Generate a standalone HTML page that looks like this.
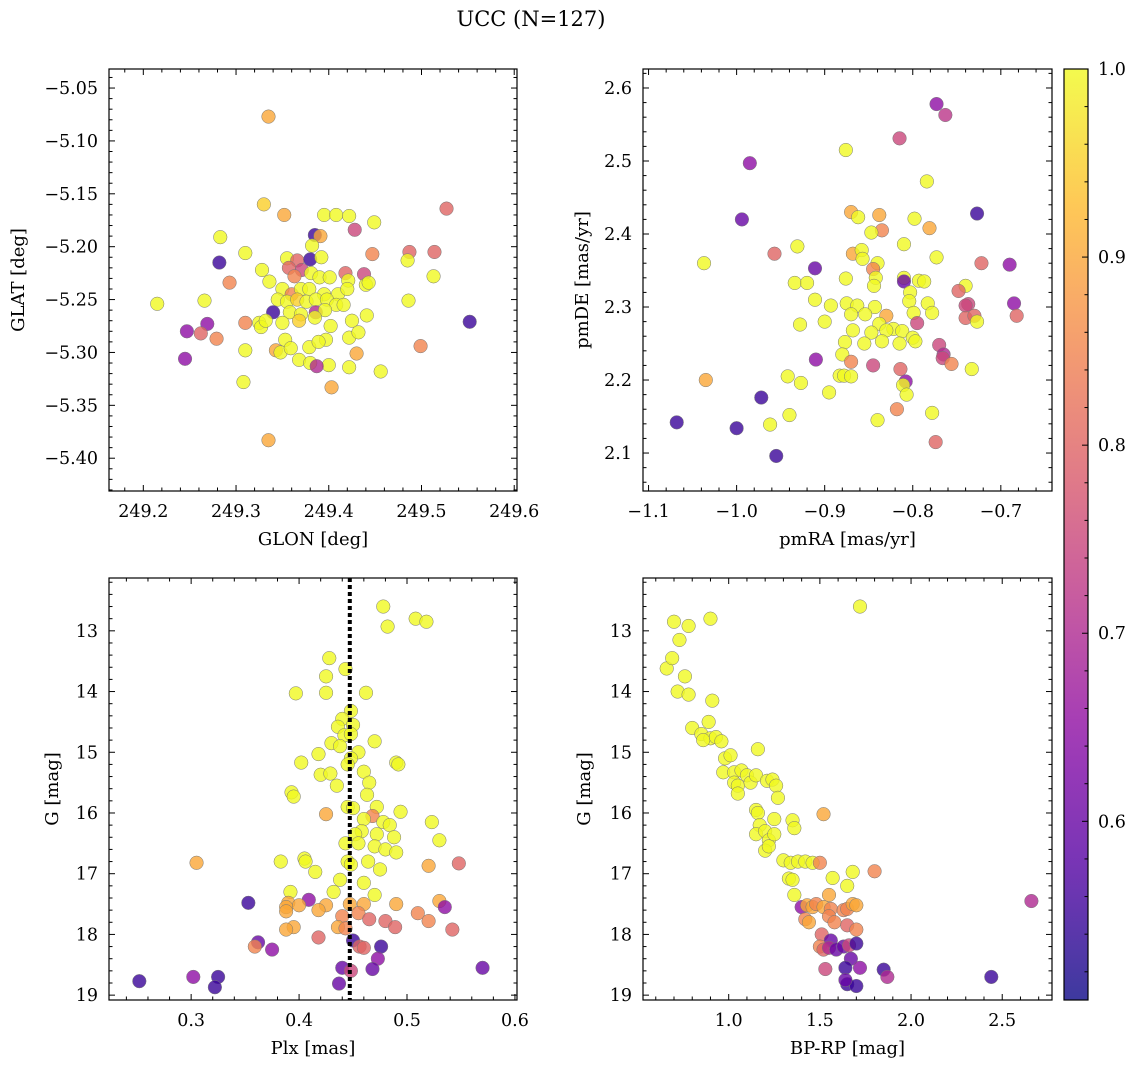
<!DOCTYPE html>
<html><head><meta charset="utf-8"><style>
body{margin:0;background:#fff}
svg{display:block;font-family:"DejaVu Serif","Liberation Serif",serif}
</style></head><body>
<svg id="fig" width="1136" height="1068" viewBox="0 0 1136 1068" xmlns="http://www.w3.org/2000/svg">
<text x="531" y="26" font-size="21" text-anchor="middle">UCC (N=127)</text>
</svg>
<script>
const tlX=[249.335,249.330,249.352,249.395,249.408,249.422,249.449,249.527,249.428,249.385,249.391,249.283,249.310,249.382,249.282,249.355,249.366,249.380,249.392,249.447,249.487,249.514,249.485,249.328,249.357,249.371,249.363,249.293,249.266,249.215,249.336,249.381,249.390,249.401,249.418,249.421,249.438,249.440,249.443,249.513,249.350,249.360,249.370,249.379,249.395,249.410,249.420,249.345,249.355,249.366,249.376,249.386,249.398,249.408,249.486,249.340,249.358,249.370,249.386,249.396,249.416,249.441,249.310,249.325,249.327,249.332,249.350,249.368,249.385,249.402,249.425,249.552,249.269,249.247,249.262,249.279,249.353,249.397,249.422,249.432,249.499,249.310,249.343,249.348,249.359,249.379,249.389,249.430,249.245,249.368,249.380,249.400,249.387,249.422,249.456,249.308,249.403,249.335];
const tlY=[-5.077,-5.160,-5.170,-5.170,-5.170,-5.171,-5.177,-5.164,-5.184,-5.189,-5.190,-5.191,-5.206,-5.199,-5.215,-5.211,-5.213,-5.212,-5.210,-5.207,-5.205,-5.205,-5.213,-5.222,-5.220,-5.222,-5.228,-5.234,-5.251,-5.254,-5.233,-5.225,-5.229,-5.229,-5.225,-5.232,-5.226,-5.236,-5.234,-5.228,-5.240,-5.245,-5.240,-5.240,-5.245,-5.245,-5.240,-5.250,-5.252,-5.250,-5.252,-5.250,-5.250,-5.255,-5.251,-5.262,-5.262,-5.264,-5.262,-5.260,-5.255,-5.265,-5.272,-5.272,-5.276,-5.270,-5.272,-5.270,-5.267,-5.275,-5.270,-5.271,-5.273,-5.280,-5.282,-5.287,-5.288,-5.288,-5.286,-5.281,-5.294,-5.298,-5.298,-5.300,-5.296,-5.295,-5.290,-5.301,-5.306,-5.307,-5.310,-5.312,-5.313,-5.314,-5.318,-5.328,-5.333,-5.383];
const tlP=[.9,.95,.9,1,1,1,1,.8,.75,.55,.9,1,1,1,.55,1,.8,.55,1,.85,.8,.8,1,1,.8,.75,.85,.85,1,1,1,1,1,1,.8,1,.75,1,1,1,1,.85,1,1,1,1,1,1,1,.95,1,1,1,1,1,.55,1,1,.7,1,1,1,.85,1,1,1,1,.95,1,1,1,.55,.65,.65,.8,.85,1,1,1,1,.85,1,.9,1,1,1,1,.9,.65,1,1,1,.7,1,1,1,.9,.9];

const trX=[-0.773,-0.763,-0.815,-0.876,-0.985,-0.784,-0.727,-0.870,-0.862,-0.838,-0.798,-0.994,-0.835,-0.847,-0.781,-0.931,-0.810,-0.957,-0.868,-0.858,-0.857,-0.840,-0.773,-0.722,-0.690,-1.037,-0.911,-0.845,-0.842,-0.876,-0.810,-0.810,-0.793,-0.787,-0.740,-0.934,-0.920,-0.844,-0.748,-0.803,-0.804,-0.783,-0.911,-0.875,-0.863,-0.843,-0.737,-0.740,-0.685,-0.893,-0.854,-0.870,-0.830,-0.799,-0.778,-0.740,-0.730,-0.682,-0.900,-0.838,-0.822,-0.830,-0.812,-0.795,-0.727,-0.928,-0.868,-0.847,-0.855,-0.835,-0.800,-0.797,-0.770,-0.765,-0.766,-0.877,-0.880,-0.870,-0.910,-0.815,-0.756,-0.733,-0.814,-0.883,-0.878,-0.870,-0.927,-0.942,-0.895,-0.845,-0.808,-0.811,-0.807,-1.035,-0.972,-0.818,-0.778,-0.940,-0.840,-0.962,-0.774,-1.068,-1.000,-0.955];
const trY=[2.578,2.563,2.531,2.515,2.497,2.472,2.428,2.430,2.423,2.426,2.421,2.420,2.405,2.402,2.408,2.383,2.386,2.373,2.373,2.378,2.366,2.360,2.368,2.360,2.358,2.360,2.353,2.352,2.340,2.339,2.340,2.335,2.336,2.335,2.329,2.333,2.333,2.329,2.322,2.320,2.308,2.305,2.310,2.305,2.302,2.300,2.304,2.302,2.305,2.302,2.290,2.290,2.288,2.292,2.292,2.285,2.288,2.288,2.280,2.277,2.270,2.268,2.267,2.278,2.280,2.276,2.268,2.265,2.250,2.253,2.258,2.253,2.248,2.235,2.230,2.252,2.235,2.225,2.228,2.250,2.222,2.215,2.215,2.206,2.206,2.205,2.196,2.205,2.183,2.220,2.198,2.193,2.180,2.200,2.176,2.160,2.155,2.152,2.145,2.139,2.115,2.142,2.134,2.096];
const trP=[.65,.72,.75,1,.65,1,.55,.9,1,.9,1,.6,.85,1,.9,1,1,.8,.9,1,1,1,1,.8,.65,1,.6,.85,1,1,1,.6,1,1,1,1,1,1,.8,1,1,1,1,1,1,1,.75,.75,.65,1,1,1,.9,1,1,.8,.8,.8,1,1,1,1,1,.75,1,1,1,1,1,1,1,1,.75,.7,.75,1,1,.85,.65,1,.85,1,.8,1,1,1,1,1,1,.75,.65,1,1,.9,.55,.85,1,1,1,1,.8,.55,.55,.55];

const blX=[0.478,0.508,0.518,0.482,0.428,0.443,0.425,0.425,0.462,0.397,0.448,0.440,0.450,0.436,0.442,0.448,0.430,0.438,0.418,0.470,0.455,0.448,0.402,0.445,0.490,0.492,0.420,0.429,0.460,0.465,0.435,0.393,0.395,0.463,0.445,0.450,0.472,0.494,0.425,0.468,0.460,0.478,0.484,0.523,0.458,0.452,0.472,0.488,0.530,0.443,0.455,0.470,0.480,0.490,0.405,0.406,0.383,0.445,0.464,0.305,0.448,0.520,0.548,0.415,0.475,0.438,0.460,0.392,0.432,0.470,0.409,0.353,0.390,0.388,0.400,0.425,0.447,0.460,0.490,0.530,0.535,0.388,0.418,0.455,0.465,0.440,0.510,0.520,0.480,0.542,0.395,0.388,0.436,0.443,0.489,0.418,0.450,0.456,0.460,0.476,0.362,0.359,0.375,0.473,0.440,0.448,0.468,0.570,0.252,0.302,0.325,0.322,0.437];
const blY=[12.60,12.80,12.85,12.93,13.45,13.63,13.75,14.02,14.02,14.03,14.32,14.45,14.55,14.58,14.72,14.70,14.85,14.90,15.03,14.82,15.00,15.10,15.17,15.20,15.17,15.20,15.37,15.35,15.32,15.50,15.55,15.66,15.73,15.70,15.90,15.92,15.90,15.98,16.02,16.05,16.10,16.15,16.20,16.15,16.30,16.35,16.35,16.40,16.45,16.50,16.50,16.55,16.60,16.65,16.75,16.80,16.80,16.80,16.80,16.82,16.85,16.87,16.83,16.97,16.93,17.10,17.15,17.30,17.30,17.35,17.43,17.48,17.48,17.55,17.52,17.52,17.50,17.50,17.50,17.45,17.55,17.62,17.60,17.65,17.75,17.70,17.65,17.78,17.78,17.92,17.88,17.92,17.88,17.90,17.88,18.05,18.10,18.20,18.22,18.20,18.13,18.20,18.25,18.40,18.55,18.60,18.57,18.55,18.77,18.70,18.70,18.87,18.81];
const blP=[1,1,1,1,1,1,1,1,1,1,1,1,1,1,1,1,1,1,1,1,1,1,1,1,1,1,1,1,1,1,1,1,1,1,1,1,1,1,.9,.85,1,1,1,1,1,1,1,1,1,1,1,1,1,1,1,1,1,1,1,.9,1,.9,.8,1,1,1,1,1,1,1,.65,.55,.9,.9,.9,.9,.9,.9,.9,.9,.65,.9,.9,.85,.8,.85,.85,.85,.8,.8,.9,.9,.9,.85,.8,.8,.55,.8,.8,.55,.6,.85,.65,.65,.6,.75,.6,.6,.55,.65,.55,.55,.6];

const brX=[0.66,0.70,0.78,0.73,0.90,0.69,0.76,0.72,0.78,0.91,0.80,0.89,0.85,0.90,0.86,0.93,0.96,0.98,1.01,0.97,1.03,1.07,1.10,1.03,1.05,1.05,1.16,1.12,1.15,1.21,1.24,1.26,1.15,1.16,1.17,1.15,1.20,1.22,1.20,1.22,1.25,1.27,1.25,1.35,1.36,1.52,1.30,1.34,1.38,1.42,1.46,1.50,1.33,1.35,1.36,1.40,1.43,1.46,1.55,1.57,1.65,1.68,1.80,1.48,1.52,1.56,1.63,1.65,1.68,1.70,1.42,1.44,1.55,1.58,1.65,1.70,1.51,1.56,1.50,1.52,1.55,1.59,1.63,1.66,1.70,1.67,1.72,1.64,1.53,1.85,1.87,1.65,1.70,1.64,2.44,2.66,1.72];
const brY=[13.62,12.85,12.92,13.15,12.80,13.45,13.75,14.00,14.05,14.15,14.60,14.50,14.70,14.77,14.80,14.75,14.82,15.10,15.05,15.33,15.33,15.30,15.38,15.50,15.55,15.68,14.95,15.50,15.38,15.47,15.45,15.55,15.95,16.00,16.20,16.35,16.30,16.45,16.62,16.55,16.35,15.75,16.10,16.12,16.25,16.02,16.78,16.82,16.80,16.80,16.82,16.82,17.08,17.10,17.35,17.55,17.52,17.55,17.35,17.07,17.20,16.97,16.96,17.50,17.55,17.58,17.60,17.58,17.50,17.52,17.75,17.80,17.70,17.80,17.85,17.92,18.00,18.10,18.20,18.25,18.22,18.25,18.20,18.18,18.15,18.40,18.55,18.55,18.57,18.58,18.70,18.82,18.85,18.75,18.70,17.45,12.60];
const brP=[1,1,1,1,1,1,1,1,1,1,1,1,1,1,1,1,1,1,1,1,1,1,1,1,1,1,1,1,1,1,1,1,1,1,1,1,1,1,1,1,1,1,1,1,1,.9,1,1,1,1,1,.85,1,1,1,.65,.9,.9,.9,1,1,1,.85,.85,.9,.85,.85,.85,.9,.9,.85,.9,.85,.85,.8,.85,.8,.6,.85,.8,.7,.6,.6,.75,.55,.6,.65,.55,.75,.55,.7,.55,.55,.6,.55,.7,1];

const plxLine=0.447;
const vmin=0.505, vmax=1.0;

const NS="http://www.w3.org/2000/svg";
const svg=document.getElementById('fig');
function el(t,a,p){const e=document.createElementNS(NS,t);for(const k in a)e.setAttribute(k,a[k]);(p||svg).appendChild(e);return e;}
const stops=[[13,8,135],[84,2,163],[139,10,165],[185,50,137],[219,92,104],[244,136,73],[254,188,43],[240,249,33]];
function cmap(v){let t=(v-vmin)/(vmax-vmin);t=Math.max(0,Math.min(1,t));const f=t*(stops.length-1),i=Math.min(stops.length-2,Math.floor(f)),r=f-i;const c=stops[i].map((a,k)=>Math.round(a+(stops[i+1][k]-a)*r));return `rgb(${c[0]},${c[1]},${c[2]})`;}
function fmt(v,d){const s=v.toFixed(d);return s.replace('-','\u2212');}

function panel(cfg){
  const {name,x0,y0,x1,y1,xmin,xmax,ymin,ymax,inv}=cfg;
  const g=el('g',{});
  
  
  const sx=v=>x0+(v-xmin)/(xmax-xmin)*(x1-x0);
  const sy=v=>inv? y0+(v-ymin)/(ymax-ymin)*(y1-y0) : y1-(v-ymin)/(ymax-ymin)*(y1-y0);
  const pts=el('g',{},g);
  
  
  for(let i=0;i<cfg.xs.length;i++){
    const c=el('circle',{cx:sx(cfg.xs[i]),cy:sy(cfg.ys[i]),r:6.8,fill:cmap(cfg.ps[i]),'fill-opacity':0.8,stroke:'#777','stroke-width':0.5},pts);
    
    
  }
  if(cfg.vline!==undefined){
    const l=el('line',{x1:sx(cfg.vline),x2:sx(cfg.vline),y1:y0,y2:y1,stroke:'#000','stroke-width':4,'stroke-dasharray':'4,3'},g);
    
    
  }
  const ax=el('rect',{x:x0,y:y0,width:x1-x0,height:y1-y0,fill:'none',stroke:'#000','stroke-width':1.2},g);
  
  
  for(let k=Math.ceil(xmin/cfg.xmi-1e-6);k*cfg.xmi<=xmax+1e-9;k++){
    const v=k*cfg.xmi,X=sx(v);
    const major=Math.abs(v/cfg.xma-Math.round(v/cfg.xma))<1e-4;
    const L=major?6:3.5;
    el('line',{x1:X,x2:X,y1:y1,y2:y1-L,stroke:'#000','stroke-width':1},g);
    el('line',{x1:X,x2:X,y1:y0,y2:y0+L,stroke:'#000','stroke-width':1},g);
    if(major){const t=el('text',{x:X,y:y1+26,'font-size':17.5,'text-anchor':'middle'},g);t.textContent=fmt(v,cfg.xd);
      }
  }
  for(let k=Math.ceil(ymin/cfg.ymi-1e-6);k*cfg.ymi<=ymax+1e-9;k++){
    const v=k*cfg.ymi,Y=sy(v);
    const major=Math.abs(v/cfg.yma-Math.round(v/cfg.yma))<1e-4;
    const L=major?6:3.5;
    el('line',{x1:x0,x2:x0+L,y1:Y,y2:Y,stroke:'#000','stroke-width':1},g);
    el('line',{x1:x1,x2:x1-L,y1:Y,y2:Y,stroke:'#000','stroke-width':1},g);
    if(major){const t=el('text',{x:x0-11,y:Y+6,'font-size':17.5,'text-anchor':'end'},g);t.textContent=fmt(v,cfg.yd);
      }
  }
  const xl=el('text',{x:(x0+x1)/2,y:y1+54,'font-size':18,'text-anchor':'middle'},g);xl.textContent=cfg.xl;
  
  const yx=cfg.ylx,yy=(y0+y1)/2;
  const yl=el('text',{x:yx,y:yy,'font-size':18,'text-anchor':'middle',transform:`rotate(-90 ${yx} ${yy})`},g);yl.textContent=cfg.yl;
  
}
panel({name:'glon-glat-panel',x0:109,y0:69,x1:517,y1:491,xmin:249.163,xmax:249.603,ymin:-5.431,ymax:-5.032,xs:tlX,ys:tlY,ps:tlP,xma:0.1,xmi:0.02,xd:1,yma:0.05,ymi:0.01,yd:2,xl:'GLON [deg]',yl:'GLAT [deg]',ylx:24});
panel({name:'pm-panel',x0:643,y0:69,x1:1052,y1:491,xmin:-1.1063,xmax:-0.6419,ymin:2.048,ymax:2.626,xs:trX,ys:trY,ps:trP,xma:0.1,xmi:0.02,xd:1,yma:0.1,ymi:0.02,yd:1,xl:'pmRA [mas/yr]',yl:'pmDE [mas/yr]',ylx:588});
panel({name:'plx-g-panel',x0:109,y0:578,x1:517,y1:1000,xmin:0.2239,xmax:0.6019,ymin:12.13,ymax:19.08,inv:true,xs:blX,ys:blY,ps:blP,xma:0.1,xmi:0.02,xd:1,yma:1,ymi:0.2,yd:0,xl:'Plx [mas]',yl:'G [mag]',ylx:58,vline:plxLine});
panel({name:'color-magnitude-panel',x0:643,y0:578,x1:1052,y1:1000,xmin:0.530,xmax:2.773,ymin:12.13,ymax:19.08,inv:true,xs:brX,ys:brY,ps:brP,xma:0.5,xmi:0.1,xd:1,yma:1,ymi:0.2,yd:0,xl:'BP-RP [mag]',yl:'G [mag]',ylx:590});

// colorbar
const cb=el('g',{});


const defs=el('defs',{},cb);
const lg=el('linearGradient',{id:'cbg',x1:0,y1:1,x2:0,y2:0},defs);
for(let i=0;i<=20;i++){const v=vmin+(vmax-vmin)*i/20;el('stop',{offset:i/20,'stop-color':cmap(v),'stop-opacity':0.8},lg);}
const cy0=69,cy1=1000,cx0=1064,cx1=1088;
el('rect',{x:cx0,y:cy0,width:cx1-cx0,height:cy1-cy0,fill:'url(#cbg)',stroke:'#000','stroke-width':1.2},cb);
const csy=v=>cy1-(v-vmin)/(vmax-vmin)*(cy1-cy0);
for(let k=26;k<=50;k++){const v=k*0.02;if(v<vmin-1e-9||v>vmax+1e-9)continue;const Y=csy(v);const major=k%5==0;
  el('line',{x1:cx1,x2:cx1-(major?6:3.5),y1:Y,y2:Y,stroke:'#000','stroke-width':1},cb);
  if(major){const t=el('text',{x:cx1+10,y:Y+6,'font-size':17.5},cb);t.textContent=v.toFixed(1);
    }}
</script>
</body></html>
